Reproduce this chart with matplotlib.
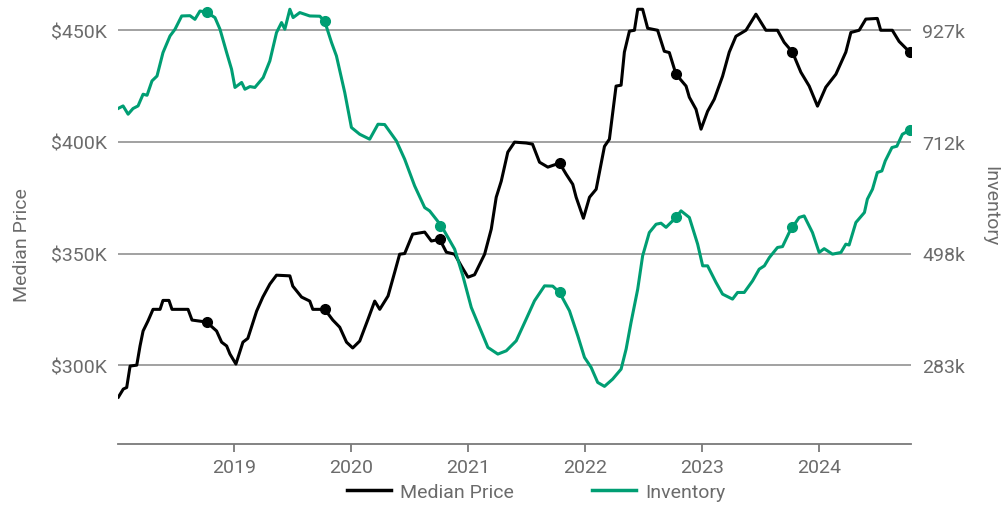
import matplotlib
matplotlib.use("Agg")
import matplotlib.pyplot as plt
from matplotlib.lines import Line2D

plt.rcParams['font.family'] = ['Roboto', 'DejaVu Sans']

# Median price (thousands of dollars), traced by decimal year
price_years = [2018.013, 2018.055, 2018.084, 2018.113, 2018.170, 2018.198, 2018.224, 2018.266,
               2018.309, 2018.369, 2018.394, 2018.445, 2018.471, 2018.608, 2018.642, 2018.767,
               2018.852, 2018.895, 2018.938, 2018.966, 2019.017, 2019.077, 2019.119, 2019.194,
               2019.247, 2019.307, 2019.364, 2019.478, 2019.503, 2019.578, 2019.648, 2019.674,
               2019.776, 2019.845, 2019.904, 2019.962, 2020.015, 2020.075, 2020.146, 2020.203,
               2020.246, 2020.317, 2020.374, 2020.416, 2020.459, 2020.527, 2020.630, 2020.687,
               2020.758, 2020.815, 2020.886, 2020.943, 2021.000, 2021.056, 2021.142, 2021.199,
               2021.241, 2021.284, 2021.340, 2021.398, 2021.497, 2021.551, 2021.611, 2021.682,
               2021.782, 2021.839, 2021.895, 2021.924, 2021.986, 2022.038, 2022.095, 2022.166,
               2022.208, 2022.265, 2022.308, 2022.336, 2022.379, 2022.422, 2022.450, 2022.492,
               2022.535, 2022.620, 2022.677, 2022.720, 2022.777, 2022.863, 2022.891, 2022.948,
               2022.991, 2023.047, 2023.104, 2023.175, 2023.232, 2023.289, 2023.375, 2023.460,
               2023.545, 2023.644, 2023.701, 2023.772, 2023.844, 2023.915, 2023.986, 2024.057,
               2024.143, 2024.228, 2024.271, 2024.342, 2024.399, 2024.497, 2024.526, 2024.625,
               2024.683, 2024.774]
price_vals = [285.7, 289.3, 290.0, 299.6, 300.0, 308.6, 315.3, 319.8,
              325.0, 325.0, 329.0, 329.0, 325.0, 325.0, 320.2, 319.3,
              315.3, 310.3, 308.6, 305.0, 300.5, 310.3, 312.0, 324.2,
              330.5, 336.3, 340.3, 340.0, 335.4, 330.5, 328.7, 325.0,
              325.0, 320.2, 317.0, 310.3, 307.7, 310.8, 320.6, 328.7,
              325.0, 331.0, 341.7, 349.7, 350.0, 358.7, 359.6, 355.6,
              356.4, 350.6, 349.7, 344.4, 339.4, 340.5, 349.7, 361.0,
              375.2, 382.4, 395.4, 399.9, 399.5, 399.0, 390.9, 388.7,
              390.5, 385.5, 381.0, 375.2, 365.8, 375.2, 378.8, 398.0,
              401.2, 425.0, 425.4, 440.2, 449.6, 450.0, 459.4, 459.4,
              450.9, 450.0, 440.6, 440.0, 430.3, 425.0, 420.0, 414.6,
              405.7, 413.7, 419.1, 429.4, 440.2, 447.3, 450.0, 457.2,
              450.0, 450.0, 444.6, 440.2, 431.2, 425.0, 416.0, 424.5,
              430.3, 440.2, 449.0, 450.0, 455.0, 455.3, 450.0, 450.0,
              445.0, 440.2]

# Inventory (thousands of listings), traced by decimal year
inv_years = [2018.010, 2018.053, 2018.096, 2018.138, 2018.181, 2018.224, 2018.258, 2018.300,
             2018.343, 2018.394, 2018.454, 2018.497, 2018.554, 2018.625, 2018.667, 2018.710,
             2018.767, 2018.838, 2018.881, 2018.938, 2018.980, 2019.009, 2019.066, 2019.094,
             2019.137, 2019.179, 2019.250, 2019.307, 2019.364, 2019.407, 2019.435, 2019.478,
             2019.506, 2019.563, 2019.648, 2019.734, 2019.776, 2019.834, 2019.876, 2019.947,
             2020.004, 2020.075, 2020.160, 2020.231, 2020.288, 2020.388, 2020.459, 2020.544,
             2020.630, 2020.672, 2020.772, 2020.886, 2020.956, 2021.028, 2021.099, 2021.170,
             2021.255, 2021.327, 2021.412, 2021.497, 2021.568, 2021.654, 2021.724, 2021.782,
             2021.867, 2021.938, 2021.995, 2022.052, 2022.108, 2022.166, 2022.236, 2022.308,
             2022.351, 2022.393, 2022.450, 2022.492, 2022.549, 2022.607, 2022.649, 2022.692,
             2022.777, 2022.820, 2022.891, 2022.962, 2023.005, 2023.047, 2023.119, 2023.175,
             2023.260, 2023.303, 2023.360, 2023.431, 2023.488, 2023.532, 2023.575, 2023.644,
             2023.687, 2023.744, 2023.772, 2023.829, 2023.872, 2023.943, 2024.000, 2024.043,
             2024.114, 2024.186, 2024.228, 2024.256, 2024.314, 2024.387, 2024.412, 2024.456,
             2024.497, 2024.536, 2024.565, 2024.622, 2024.664, 2024.711, 2024.774]
inv_vals = [776.5, 781.5, 765.6, 776.5, 781.5, 804.0, 802.0, 829.6,
            839.0, 884.0, 916.0, 929.0, 954.5, 955.0, 948.0, 964.0,
            961.6, 951.4, 929.0, 884.0, 852.0, 817.0, 826.6, 813.6,
            818.7, 817.0, 836.0, 868.0, 922.5, 941.8, 929.0, 967.4,
            951.4, 961.0, 954.5, 954.0, 944.0, 903.4, 877.6, 807.2,
            740.0, 727.0, 717.5, 746.3, 745.7, 714.3, 679.0, 627.8,
            586.0, 579.7, 551.0, 506.0, 454.8, 394.0, 355.6, 317.1,
            304.3, 310.6, 329.8, 371.5, 406.7, 435.5, 435.0, 422.8,
            387.5, 339.4, 298.0, 278.7, 249.8, 242.2, 256.2, 275.4,
            314.0, 365.2, 429.2, 493.2, 538.0, 554.0, 556.0, 548.0,
            567.0, 579.7, 567.0, 515.7, 474.0, 474.0, 442.0, 419.6,
            410.0, 422.8, 422.8, 445.0, 467.6, 474.0, 490.0, 509.3,
            511.0, 538.0, 548.0, 567.0, 570.0, 538.0, 499.7, 507.0,
            496.5, 499.7, 515.7, 514.0, 557.4, 576.6, 602.2, 621.4,
            653.5, 656.5, 675.8, 701.5, 704.0, 727.0, 734.8]

# yearly markers
marker_years = [2018.767, 2019.776, 2020.758, 2021.782, 2022.777, 2023.772, 2024.774]
price_markers = [319.3, 325.0, 356.4, 390.5, 430.3, 440.2, 440.2]
inv_markers = [961.6, 944.0, 551.0, 422.8, 567.0, 548.0, 734.8]

price_ticks = [300, 350, 400, 450]
price_labels = ['$300K', '$350K', '$400K', '$450K']
inv_ticks = [283, 498, 712, 927]
inv_labels = ['283k', '498k', '712k', '927k']
year_ticks = [2019, 2020, 2021, 2022, 2023, 2024]

black = '#000000'
green = '#009e73'
grey_txt = '#6b6b6b'


def price_to_inv(p):
    return 283 + (p - 300) / 50 * (927 - 283) / 3


fig = plt.figure(figsize=(10.02, 5.10), dpi=100)
ax = fig.add_axes([0.1178, 0.1275, 0.7914, 0.8725])
ax2 = ax.twinx()

ax.set_xlim(2018.01, 2024.785)
ax.set_ylim(264.7, 464.0)
ax2.set_ylim(price_to_inv(264.7), price_to_inv(464.0))

for y in price_ticks:
    ax.axhline(y, color='#9a9a9a', lw=1.3, zorder=1)

ax.plot(price_years, price_vals, color=black, lw=2.2, zorder=3)
ax.plot(marker_years, price_markers, 'o', color=black, ms=7, zorder=4)
ax2.plot(inv_years, inv_vals, color=green, lw=2.2, zorder=3)
ax2.plot(marker_years, inv_markers, 'o', color=green, ms=7, zorder=4)

ax.set_yticks(price_ticks)
ax.set_yticklabels(price_labels)
ax2.set_yticks(inv_ticks)
ax2.set_yticklabels(inv_labels)
ax.set_xticks(year_ticks)
ax.set_xticklabels([str(y) for y in year_ticks])

for a in (ax, ax2):
    for s in ('top', 'left', 'right', 'bottom'):
        a.spines[s].set_visible(False)
ax.spines['bottom'].set_visible(True)
ax.spines['bottom'].set_color('#7a7a7a')
ax.spines['bottom'].set_linewidth(1.3)

ax.tick_params(axis='x', length=6, width=1.3, color='#7a7a7a', labelsize=14,
               labelcolor=grey_txt, pad=4)
ax.tick_params(axis='y', length=0, labelsize=14, labelcolor=grey_txt, pad=8)
ax2.tick_params(axis='y', length=0, labelsize=14, labelcolor=grey_txt, pad=8)

fig.text(0.022, 0.52, 'Median Price', rotation=90, ha='center', va='center',
         fontsize=14, color=grey_txt)
fig.text(0.988, 0.595, 'Inventory', rotation=270, ha='center', va='center',
         fontsize=14, color=grey_txt)

handles = [Line2D([], [], color=black, lw=2.5), Line2D([], [], color=green, lw=2.5)]
fig.legend(handles, ['Median Price', 'Inventory'], loc='center', ncol=2,
           bbox_to_anchor=(0.535, 0.033), frameon=False, fontsize=14,
           labelcolor=grey_txt, handlelength=2.3, columnspacing=4.0, handletextpad=0.45)

fig.savefig('out.png', dpi=100)
